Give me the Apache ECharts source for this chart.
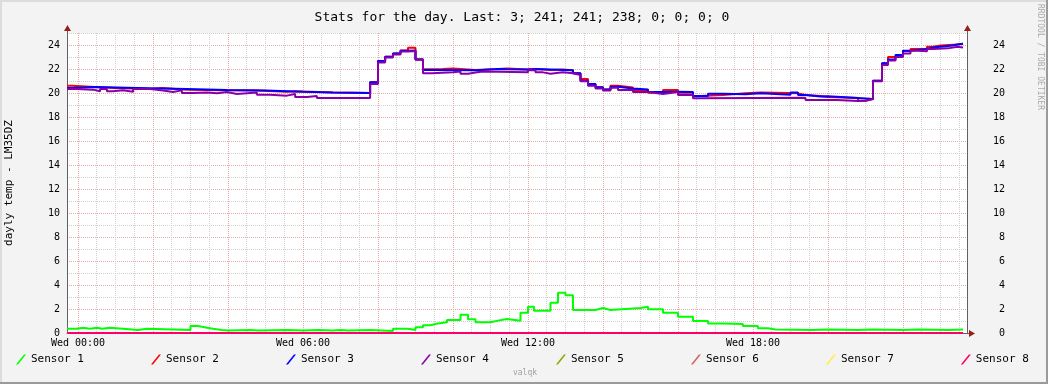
<!DOCTYPE html>
<html><head><meta charset="utf-8">
<script src="https://cdn.jsdelivr.net/npm/echarts@6/dist/echarts.min.js"></script>
<style>html,body{margin:0;padding:0;background:#f3f3f3}#c{width:1048px;height:384px}</style>
</head><body><div id="c"></div><script>
const FONT = '"DejaVu Sans Mono", monospace';
const chartTitle = 'Stats for the day. Last: 3; 241; 241; 238; 0; 0; 0; 0';
const yAxisName = 'dayly temp - LM35DZ';
const watermark = 'RRDTOOL / TOBI OETIKER';
const footer = 'valqk';
const seriesNames = ['Sensor 1','Sensor 2','Sensor 3','Sensor 4','Sensor 5','Sensor 6','Sensor 7','Sensor 8'];
const seriesColors = ['#00ff00','#ff0000','#0000ff','#8800aa','#88aa00','#cc6666','#ffee44','#ff0066'];
const dayLabel = 'Wed';
const xLabelHours = [0, 6, 12, 18];
const yLabelValues = [0,2,4,6,8,10,12,14,16,18,20,22,24];
const xMin = -0.2933, xMax = 23.7067, endHour = 23.6;

// [hour, value] segment starts (step functions)
const sensor1 = [[-0.29,0.36],[-0.03,0.44],[0.13,0.36],[0.32,0.44],[0.51,0.36],[0.64,0.44],[0.85,0.36],[1.2,0.25],[1.6,0.36],[1.84,0.25],[3.0,0.58],[3.2,0.44],[3.44,0.36],[3.6,0.25],[3.84,0.2],[4.0,0.25],[4.6,0.2],[4.8,0.25],[5.6,0.2],[6.0,0.25],[6.4,0.2],[6.8,0.25],[7.0,0.2],[7.2,0.25],[7.8,0.17],[8.4,0.36],[8.8,0.25],[9.0,0.47],[9.2,0.65],[9.4,0.8],[9.6,0.89],[9.84,1.08],[10.2,1.53],[10.4,1.14],[10.6,0.89],[11.0,1.03],[11.2,1.17],[11.44,1.03],[11.8,1.69],[12.0,2.19],[12.16,1.86],[12.6,2.53],[12.8,3.36],[13.0,3.14],[13.2,1.92],[13.8,2.08],[14.0,1.92],[14.2,2.08],[15.0,2.19],[15.2,1.97],[15.6,1.69],[16.0,1.36],[16.4,1.0],[16.8,0.8],[17.2,0.75],[17.73,0.58],[18.13,0.39],[18.4,0.3],[18.6,0.25],[19.6,0.3],[20.0,0.25],[20.8,0.3],[21.2,0.25],[22.0,0.3],[22.4,0.25],[23.2,0.3]];
const sensor2 = [[-0.29,20.6],[-0.16,20.5],[0.45,20.42],[0.99,20.33],[1.97,20.42],[2.24,20.28],[2.9,20.22],[3.97,20.2],[4.77,20.1],[5.57,20.15],[5.79,20.05],[6.8,20.0],[7.79,20.9],[8.0,22.67],[8.19,23.03],[8.4,23.3],[8.6,23.55],[8.8,23.78],[9.0,22.8],[9.2,21.97],[9.44,22.0],[9.73,22.05],[10.0,21.92],[10.6,22.0],[11.2,22.05],[11.44,21.95],[12.0,22.0],[12.2,21.92],[12.6,21.95],[12.93,21.9],[13.2,21.64],[13.4,21.17],[13.6,20.75],[13.8,20.47],[14.0,20.3],[14.2,20.61],[14.4,20.45],[14.8,20.25],[15.2,20.03],[15.6,20.25],[16.0,20.03],[16.4,19.75],[16.6,19.83],[17.2,19.97],[17.8,20.05],[18.2,20.03],[18.6,19.97],[19.2,19.83],[19.4,19.75],[19.8,19.67],[20.0,19.58],[20.8,19.36],[21.0,19.5],[21.2,21.03],[21.44,22.47],[21.6,23.0],[21.8,23.1],[22.0,23.5],[22.2,23.67],[22.64,23.86],[22.8,23.95],[23.0,24.05],[23.45,24.1]];
const sensor3 = [[-0.29,20.42],[-0.16,20.5],[0.45,20.42],[1.6,20.33],[2.9,20.25],[3.97,20.2],[5.0,20.1],[6.0,20.05],[6.8,20.0],[7.79,20.9],[8.0,22.67],[8.19,23.03],[8.4,23.3],[8.6,23.53],[8.8,23.55],[9.0,22.8],[9.2,21.92],[9.44,21.9],[10.64,22.0],[11.2,21.97],[11.44,21.95],[12.0,22.0],[12.2,21.9],[13.2,21.64],[13.4,21.03],[13.6,20.75],[13.8,20.47],[14.0,20.3],[14.2,20.53],[14.4,20.38],[14.8,20.3],[15.2,20.08],[15.6,20.1],[16.0,20.08],[16.4,19.75],[16.8,19.94],[17.2,19.89],[17.8,19.97],[18.2,19.92],[18.6,19.86],[19.0,20.05],[19.2,19.83],[19.4,19.7],[19.8,19.72],[20.0,19.58],[20.8,19.5],[21.2,21.03],[21.44,22.47],[21.6,22.8],[21.8,23.17],[22.0,23.53],[22.2,23.67],[22.64,23.8],[22.8,23.95],[23.33,24.02],[23.4,24.1]];
const sensor4 = [[-0.29,20.33],[-0.03,20.28],[0.4,20.14],[0.59,20.33],[0.77,20.14],[0.93,20.22],[1.2,20.1],[1.47,20.33],[1.92,20.2],[2.27,20.08],[2.53,20.22],[2.77,20.0],[3.07,20.05],[3.44,19.97],[3.71,20.08],[3.97,19.92],[4.24,20.05],[4.77,19.86],[5.12,19.78],[5.57,19.92],[5.79,19.67],[6.11,19.75],[6.37,19.58],[7.79,20.76],[8.0,22.55],[8.19,22.95],[8.4,23.2],[8.6,23.45],[8.8,23.5],[9.0,22.8],[9.2,21.64],[9.44,21.72],[10.0,21.8],[10.2,21.6],[10.4,21.72],[10.64,21.8],[10.8,21.72],[12.0,21.89],[12.2,21.72],[12.4,21.6],[12.6,21.72],[12.93,21.64],[13.2,21.5],[13.4,20.97],[13.6,20.6],[13.8,20.38],[14.0,20.2],[14.2,20.44],[14.4,20.25],[14.8,20.08],[15.2,19.92],[15.6,20.08],[16.0,19.83],[16.4,19.56],[16.6,19.6],[19.4,19.42],[20.24,19.33],[20.8,19.36],[21.0,19.5],[21.2,20.97],[21.44,22.33],[21.6,22.7],[21.8,23.0],[22.0,23.3],[22.2,23.53],[22.4,23.47],[22.64,23.67],[22.8,23.72],[23.2,23.86],[23.45,23.8]];
const sensor5 = [[-0.29,0]];
const sensor6 = [[-0.29,0]];
const sensor7 = [[-0.29,0]];
const sensor8 = [[-0.29,0]];
const sensorData = [sensor1,sensor2,sensor3,sensor4,sensor5,sensor6,sensor7,sensor8];

const GL = 67, GT = 33, GR = 1048 - 967, GB = 384 - 333;
const AXIS_COLOR = '#606060', ARROW_COLOR = '#9b1c1c';
const MINOR = '#cfcfcf', MAJOR = '#eaa8a8';

function withEnd(arr) {
  const d = arr.map(p => [p[0], p[1]]);
  d.push([endHour, arr[arr.length - 1][1]]);
  return d;
}
function isInt(v) { return Math.abs(v - Math.round(v)) < 1e-6; }
function pad(n) { return (n < 10 ? '0' : '') + n; }

const chart = echarts.init(document.getElementById('c'), null, {renderer: 'canvas'});
const option = {
  animation: false,
  backgroundColor: '#f3f3f3',
  title: {
    text: chartTitle, left: 517, top: 6, textAlign: 'center',
    textStyle: {fontFamily: FONT, fontSize: 13, fontWeight: 'normal', color: '#000'}
  },
  legend: {
    data: seriesNames, left: 16, top: 354, padding: 0, itemWidth: 10, itemHeight: 10, itemGap: 67,
    icon: 'path://M0,10 L8,0 L10,0 L2,10 Z',
    textStyle: {fontFamily: FONT, fontSize: 11, color: '#000'},
    selectedMode: false
  },
  grid: {left: GL, top: GT, right: GR, bottom: GB, show: true, backgroundColor: '#ffffff', borderWidth: 0,
    containLabel: false, outerBoundsMode: 'none'},
  xAxis: [
    {
      type: 'value', min: xMin, max: xMax, splitNumber: 48, minInterval: 0.5, maxInterval: 0.5,
      axisLine: {show: true, onZero: false, lineStyle: {color: AXIS_COLOR, width: 1}},
      axisTick: {show: false},
      axisLabel: {
        show: true, margin: 5, fontFamily: FONT, fontSize: 10, color: '#000',
        showMinLabel: true, showMaxLabel: true,
        formatter: v => (isInt(v) && xLabelHours.includes(Math.round(v))) ? dayLabel + ' ' + pad(Math.round(v)) + ':00' : ''
      },
      splitLine: {show: true, showMinLine: false, showMaxLine: false, lineStyle: {color: MINOR, width: 1, type: [1, 1]}}
    },
    {
      type: 'value', min: xMin, max: xMax, splitNumber: 12, minInterval: 2, maxInterval: 2, position: 'bottom',
      axisLine: {show: false, onZero: false}, axisTick: {show: false}, axisLabel: {show: false},
      splitLine: {show: true, showMinLine: false, showMaxLine: false, lineStyle: {color: MAJOR, width: 1, type: [1, 1]}}
    }
  ],
  yAxis: [
    {
      type: 'value', position: 'left', min: 0, max: 25, interval: 1,
      name: yAxisName, nameLocation: 'middle', nameGap: 52, nameRotate: 90,
      nameTextStyle: {fontFamily: FONT, fontSize: 11, color: '#000'},
      axisLine: {show: true, onZero: false, lineStyle: {color: AXIS_COLOR, width: 1}},
      axisTick: {show: false},
      axisLabel: {margin: 7, fontFamily: FONT, fontSize: 10, color: '#000',
        formatter: v => (isInt(v) && yLabelValues.includes(Math.round(v))) ? String(Math.round(v)) : ''},
      splitLine: {show: true, showMinLine: false, lineStyle: {color: MINOR, width: 1, type: [1, 1]}}
    },
    {
      type: 'value', position: 'right', min: 0, max: 25, interval: 2,
      axisLine: {show: true, onZero: false, lineStyle: {color: AXIS_COLOR, width: 1}},
      axisTick: {show: false},
      axisLabel: {margin: 38, align: 'right', fontFamily: FONT, fontSize: 10, color: '#000',
        formatter: v => (isInt(v) && yLabelValues.includes(Math.round(v))) ? String(Math.round(v)) : ''},
      splitLine: {show: true, showMinLine: false, showMaxLine: false, lineStyle: {color: MAJOR, width: 1, type: [1, 1]}}
    }
  ],
  series: seriesNames.map((name, i) => ({
    name, type: 'line', step: 'end', xAxisIndex: 0, yAxisIndex: 0,
    data: withEnd(sensorData[i]), showSymbol: false, symbol: 'none', clip: false,
    color: seriesColors[i],
    itemStyle: {color: seriesColors[i]},
    lineStyle: {color: seriesColors[i], width: 2},
    z: 3 + i
  })),
  graphic: [
    {type: 'rect', shape: {x: 0, y: 0, width: 1048, height: 2}, style: {fill: '#dcdcdc'}, silent: true},
    {type: 'rect', shape: {x: 0, y: 0, width: 2, height: 384}, style: {fill: '#dcdcdc'}, silent: true},
    {type: 'rect', shape: {x: 0, y: 382, width: 1048, height: 2}, style: {fill: '#9a9a9a'}, silent: true},
    {type: 'rect', shape: {x: 1046, y: 0, width: 2, height: 384}, style: {fill: '#9a9a9a'}, silent: true},
    {type: 'line', shape: {x1: GL + 0.5, y1: GT, x2: GL + 0.5, y2: GT - 4}, style: {stroke: AXIS_COLOR, lineWidth: 1}, silent: true},
    {type: 'line', shape: {x1: 967.5, y1: GT, x2: 967.5, y2: GT - 4}, style: {stroke: AXIS_COLOR, lineWidth: 1}, silent: true},
    {type: 'line', shape: {x1: 967, y1: 333.5, x2: 970, y2: 333.5}, style: {stroke: AXIS_COLOR, lineWidth: 1}, silent: true},
    {type: 'polygon', shape: {points: [[GL - 3, 31], [GL + 4, 31], [GL + 0.5, 25]]}, style: {fill: ARROW_COLOR}, silent: true},
    {type: 'polygon', shape: {points: [[964, 31], [971, 31], [967.5, 25]]}, style: {fill: ARROW_COLOR}, silent: true},
    {type: 'polygon', shape: {points: [[969, 330], [969, 337], [975, 333.5]]}, style: {fill: ARROW_COLOR}, silent: true},
    {type: 'text', x: 1036, y: 4, rotation: -Math.PI / 2,
      style: {text: watermark, fontFamily: FONT, fontSize: 8, fill: '#aaaaaa', textAlign: 'left', textVerticalAlign: 'bottom'}, silent: true},
    {type: 'text', x: 525, y: 373,
      style: {text: footer, fontFamily: FONT, fontSize: 8, fill: '#a0a0a0', textAlign: 'center', textVerticalAlign: 'middle'}, silent: true}
  ]
};
chart.setOption(option);
</script></body></html>
